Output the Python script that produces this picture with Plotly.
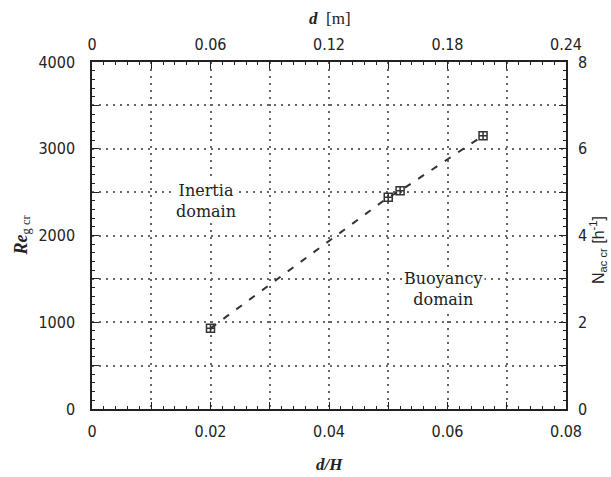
import plotly.graph_objects as go

# Data
d_over_H = [0.02, 0.05, 0.052, 0.066]
Re_g_cr = [930, 2440, 2515, 3150]

# Tick definitions
x_tickvals = [0, 0.01, 0.02, 0.03, 0.04, 0.05, 0.06, 0.07, 0.08]
x_ticktext = ["0", "", "0.02", "", "0.04", "", "0.06", "", "0.08"]
x2_tickvals = [0, 0.03, 0.06, 0.09, 0.12, 0.15, 0.18, 0.21, 0.24]
x2_ticktext = ["0", "", "0.06", "", "0.12", "", "0.18", "", "0.24"]
y_tickvals = [0, 500, 1000, 1500, 2000, 2500, 3000, 3500, 4000]
y_ticktext = ["0", "", "1000", "", "2000", "", "3000", "", "4000"]
y2_tickvals = [0, 1, 2, 3, 4, 5, 6, 7, 8]
y2_ticktext = ["0", "", "2", "", "4", "", "6", "", "8"]

TICKFONT = dict(family="DejaVu Sans Condensed", size=16, color="#222")
SERIF = "DejaVu Serif"
AX = "#222"
GRID = "#666"

fig = go.Figure()
fig.add_trace(go.Scatter(
    x=d_over_H, y=Re_g_cr, mode="lines+markers",
    line=dict(color="#333", width=2, dash="7px,9px"),
    marker=dict(symbol="square-cross-open", size=8, color="#333", line=dict(width=1.5, color="#333")),
    showlegend=False, hoverinfo="skip"))
# invisible trace to activate secondary axes
fig.add_trace(go.Scatter(x=[None], y=[None], xaxis="x2", yaxis="y2",
                         mode="markers", showlegend=False, hoverinfo="skip"))

common = dict(showline=True, linecolor=AX, linewidth=1.5, ticks="inside",
              ticklen=7, tickwidth=1, tickcolor=AX, zeroline=False, tickfont=TICKFONT)

fig.update_layout(
    width=611, height=477,
    margin=dict(l=92, r=45, t=62, b=68),
    paper_bgcolor="white", plot_bgcolor="white",
    xaxis=dict(range=[0, 0.08], tickmode="array", tickvals=x_tickvals, ticktext=x_ticktext,
               showgrid=True, gridcolor=GRID, griddash="2px,5px", gridwidth=2,
               ticklabelstandoff=7,
               minor=dict(dtick=0.002, ticks="inside", ticklen=3, tickcolor=AX, showgrid=False),
               **common),
    xaxis2=dict(range=[0, 0.24], overlaying="x", side="top", tickmode="array",
                tickvals=x2_tickvals, ticktext=x2_ticktext, showgrid=False,
                ticklabelstandoff=4,
                minor=dict(dtick=0.006, ticks="inside", ticklen=3, tickcolor=AX, showgrid=False),
                anchor="y", **common),
    yaxis=dict(range=[0, 4000], tickmode="array", tickvals=y_tickvals, ticktext=y_ticktext,
               showgrid=True, gridcolor=GRID, griddash="2px,5px", gridwidth=2,
               ticklabelstandoff=12,
               minor=dict(dtick=100, ticks="inside", ticklen=3, tickcolor=AX, showgrid=False),
               **common),
    yaxis2=dict(range=[0, 8], overlaying="y", side="right", tickmode="array",
                tickvals=y2_tickvals, ticktext=y2_ticktext, showgrid=False,
                ticklabelstandoff=7,
                minor=dict(dtick=0.2, ticks="inside", ticklen=3, tickcolor=AX, showgrid=False),
                anchor="x", **common),
)

fig.add_annotation(text="<b><i>d</i></b>  [m]", xref="paper", yref="paper", x=0.502, y=1.0,
                   xanchor="center", yanchor="middle", yshift=44, showarrow=False,
                   font=dict(family="Liberation Serif", size=17, color="#222"))
fig.add_annotation(text="<b><i>d/H</i></b>", xref="paper", yref="paper", x=0.5, y=0.0,
                   xanchor="center", yanchor="middle", yshift=-55, showarrow=False,
                   font=dict(family="Liberation Serif", size=17, color="#222"))
fig.add_annotation(text="<b><i>Re</i></b><sub>g cr</sub>", xref="paper", yref="paper",
                   x=0, xshift=-70, y=0.5, xanchor="center", yanchor="middle",
                   textangle=-90, showarrow=False,
                   font=dict(family="Liberation Serif", size=18, color="#222"))
fig.add_annotation(text="N<sub>ac cr</sub> [h<sup>-1</sup>]", xref="paper", yref="paper",
                   x=1, xshift=32, y=0.458, xanchor="center", yanchor="middle",
                   textangle=-90, showarrow=False,
                   font=dict(family="Liberation Sans", size=16, color="#222"))
fig.add_annotation(text="Inertia<br>domain", x=0.0192, y=2400, showarrow=False,
                   xanchor="center", yanchor="middle", bgcolor="white",
                   font=dict(family=SERIF, size=16, color="#222"))
fig.add_annotation(text="Buoyancy<br>domain", x=0.0593, y=1385, showarrow=False,
                   xanchor="center", yanchor="middle", bgcolor="white",
                   font=dict(family=SERIF, size=16, color="#222"))

fig.write_html("out.html")
